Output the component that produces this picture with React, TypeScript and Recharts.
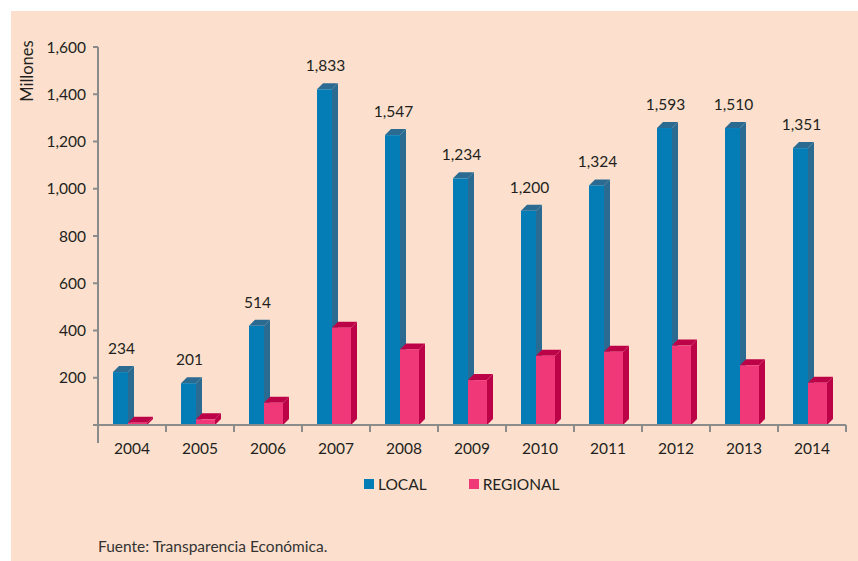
import { BarChart, Bar, XAxis, YAxis, Legend, LabelList } from 'recharts'

const years = ['2004', '2005', '2006', '2007', '2008', '2009', '2010', '2011', '2012', '2013', '2014']
const local = [224, 177, 420, 1421, 1227, 1044, 907, 1014, 1257, 1257, 1172]
const regional = [10, 24, 94, 412, 320, 190, 293, 310, 336, 253, 179]
const yTicks = [0, 200, 400, 600, 800, 1000, 1200, 1400, 1600]

const data = years.map((year, i) => ({
  year,
  local: local[i],
  regional: regional[i],
  total: local[i] + regional[i],
}))

const W = 858
const H = 561
const xAxisH = 30
// bottom of plot sits at y=425
const margin = { top: 47, right: 12, bottom: 136 - xAxisH, left: 0 }
const yAxisW = 98
const band = (W - margin.left - margin.right - yAxisW) / years.length

const font = 'Lato, "Open Sans", sans-serif'
const ink = '#231f20'
const axisGrey = '#8b8b8b'
const blue = '#047db6'
const blueDark = '#2b6a91'
const pink = '#f03878'
const pinkDark = '#bd0348'

const fmt = (v: number) => v.toLocaleString('en-US')

// fake 3d column: front face, right side, top cap
function make3D(front: string, dark: string) {
  return (props: any) => {
    const { x, y, width, height } = props
    if (height == null || height <= 0) return <g />
    const d = 6
    const l = x - 2
    const r = l + width
    const b = y + height
    return (
      <g>
        <polygon points={`${r},${y} ${r + d},${y - d} ${r + d},${b - d} ${r},${b}`} fill={dark} />
        <polygon points={`${l},${y} ${l + d},${y - d} ${r + d},${y - d} ${r},${y}`} fill={dark} />
        <rect x={l} y={y} width={width} height={height} fill={front} />
      </g>
    )
  }
}

function XTick(props: any) {
  const { x, y, payload } = props
  const i = years.indexOf(payload.value)
  const left = x - band / 2
  return (
    <g>
      <line x1={left} y1={y} x2={left} y2={y + (i === 0 ? 18 : 7)} stroke={axisGrey} strokeWidth={2} />
      {i === years.length - 1 && (
        <line x1={x + band / 2} y1={y} x2={x + band / 2} y2={y + 7} stroke={axisGrey} strokeWidth={2} />
      )}
      <text x={x} y={y + 28.5} textAnchor="middle" fontSize={15.5} fill={ink} fontFamily={font}>
        {payload.value}
      </text>
    </g>
  )
}

function TotalLabel(props: any) {
  const { x, y, width, value } = props
  return (
    <text x={x + width / 2 - 1} y={y - 18} textAnchor="middle" fontSize={15.5} fill={ink} fontFamily={font}>
      {fmt(value)}
    </text>
  )
}

function LegendBox(props: any) {
  const items = props.payload || []
  return (
    <div style={{ display: 'flex', alignItems: 'center', fontFamily: font, fontSize: 15.5, color: ink, lineHeight: '16px' }}>
      {items.map((it: any, k: number) => (
        <div key={it.value} style={{ display: 'flex', alignItems: 'center', marginRight: k === 0 ? 42 : 0 }}>
          <span style={{ width: 10, height: 10, background: it.color, marginRight: 4, display: 'inline-block' }} />
          <span>{it.value}</span>
        </div>
      ))}
    </div>
  )
}

export default function App() {
  return (
    <div style={{ position: 'absolute', left: 0, top: 0, width: W, height: H, background: '#fff' }}>
      <div style={{ position: 'absolute', left: 11, top: 11, width: W - 11, height: H - 11, background: '#fce0cd' }} />
      <div style={{ position: 'absolute', left: 0, top: 0 }}>
        <BarChart width={W} height={H} data={data} margin={margin} barGap={0}>
          <XAxis
            dataKey="year"
            height={xAxisH}
            interval={0}
            tickSize={0}
            tickMargin={0}
            tick={<XTick />}
            stroke={axisGrey}
            strokeWidth={2}
          />
          <YAxis
            width={yAxisW}
            domain={[0, 1600]}
            ticks={yTicks}
            interval={0}
            tickSize={5}
            tickMargin={7}
            tickFormatter={(v: number) => (v === 0 ? '' : fmt(v))}
            tick={{ fill: ink, fontSize: 15.5, fontFamily: font }}
            stroke={axisGrey}
            strokeWidth={2}
            label={{
              content: (p: any) => (
                <text
                  x={27}
                  y={p.viewBox.y + 24}
                  transform={`rotate(-90 27 ${p.viewBox.y + 24})`}
                  textAnchor="middle"
                  dominantBaseline="central"
                  fontSize={16.5}
                  fill={ink}
                  fontFamily={font}
                >
                  Millones
                </text>
              ),
            }}
          />
          <Legend
            content={<LegendBox />}
            wrapperStyle={{ left: 364, top: 476, bottom: 'auto', width: 300, height: 0, overflow: 'visible' }}
          />
          <Bar dataKey="local" name="LOCAL" fill={blue} barSize={15} shape={make3D(blue, blueDark)} isAnimationActive={false}>
            <LabelList dataKey="total" content={<TotalLabel />} />
          </Bar>
          <Bar dataKey="regional" name="REGIONAL" fill={pink} barSize={19} shape={make3D(pink, pinkDark)} isAnimationActive={false} />
        </BarChart>
      </div>
      <div style={{ position: 'absolute', left: 98, top: 537, fontFamily: font, fontSize: 15.5, color: '#333' }}>
        Fuente: Transparencia Económica.
      </div>
    </div>
  )
}
